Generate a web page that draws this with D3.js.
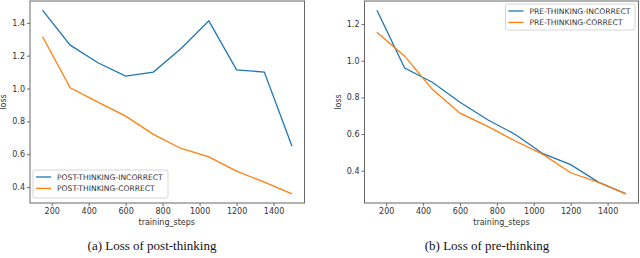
<!DOCTYPE html>
<html>
<head>
<meta charset="utf-8">
<script src="https://cdn.jsdelivr.net/npm/d3@7"></script>
<style>
  body { margin: 0; background: #fff; }
  svg text { font-family: "DejaVu Sans", sans-serif; }
</style>
</head>
<body>
<svg id="chart" width="640" height="258"></svg>
<script>
// training steps shared by both panels
const steps = [150, 300, 450, 600, 750, 900, 1050, 1200, 1350, 1500];

// (a) post-thinking loss
const postIncorrect = [1.477, 1.264, 1.157, 1.076, 1.100, 1.244, 1.412, 1.114, 1.100, 0.649];
const postCorrect   = [1.317, 1.004, 0.917, 0.832, 0.721, 0.635, 0.584, 0.497, 0.430, 0.359];

// (b) pre-thinking loss
const preIncorrect = [1.276, 0.960, 0.883, 0.774, 0.678, 0.598, 0.493, 0.433, 0.338, 0.274];
const preCorrect   = [1.156, 1.025, 0.844, 0.714, 0.642, 0.562, 0.489, 0.389, 0.336, 0.274];

const xTicks = [200, 400, 600, 800, 1000, 1200, 1400];
const postYTicks = [0.4, 0.6, 0.8, 1.0, 1.2, 1.4];
const preYTicks = [0.4, 0.6, 0.8, 1.0, 1.2];

const blue = "#1f77b4", orange = "#ff7f0e";

const svg = d3.select("#chart");

function panel(opts) {
    const {left, right, top, bottom, incorrect, correct, yTicks, names, legend, caption, captionX} = opts;

    // matplotlib style 5% margins
    const xr = d3.extent(steps);
    const xpad = (xr[1] - xr[0]) * 0.05;
    const all = incorrect.concat(correct);
    const yr = d3.extent(all);
    const ypad = (yr[1] - yr[0]) * 0.05;

    const x = d3.scaleLinear().domain([xr[0] - xpad, xr[1] + xpad]).range([left, right]);
    const y = d3.scaleLinear().domain([yr[0] - ypad, yr[1] + ypad]).range([bottom, top]);

    const g = svg.append("g");

    const xAxis = g.append("g")
        .attr("transform", `translate(0,${bottom})`)
        .call(d3.axisBottom(x).tickValues(xTicks).tickFormat(d3.format("d")).tickSize(3).tickPadding(2));
    const yAxis = g.append("g")
        .attr("transform", `translate(${left},0)`)
        .call(d3.axisLeft(y).tickValues(yTicks).tickFormat(d3.format(".1f")).tickSize(3).tickPadding(2));

    [xAxis, yAxis].forEach(a => {
        a.select(".domain").remove();
        a.selectAll(".tick line").attr("stroke", "#444").attr("stroke-width", 0.8);
        a.selectAll(".tick text").attr("fill", "#333").style("font-size", "8px");
    });

    const line = d3.line().x((d, i) => x(steps[i])).y(d => y(d));

    g.append("path").datum(incorrect)
        .attr("d", line).attr("fill", "none").attr("stroke", blue).attr("stroke-width", 1.3);
    g.append("path").datum(correct)
        .attr("d", line).attr("fill", "none").attr("stroke", orange).attr("stroke-width", 1.3);

    // frame
    g.append("rect")
        .attr("x", left).attr("y", top)
        .attr("width", right - left).attr("height", bottom - top)
        .attr("fill", "none").attr("stroke", "#666").attr("stroke-width", 1);

    // axis labels
    g.append("text")
        .attr("x", (left + right) / 2 + opts.xLabelShift).attr("y", bottom + 22)
        .attr("text-anchor", "middle").attr("fill", "#333")
        .style("font-size", "8px")
        .text("training_steps");
    g.append("text")
        .attr("transform", `translate(${opts.yLabelX},${(top + bottom) / 2}) rotate(-90)`)
        .attr("text-anchor", "middle").attr("fill", "#333")
        .style("font-size", "8px")
        .text("loss");

    // legend
    const lg = g.append("g").attr("transform", `translate(${legend.x},${legend.y})`);
    lg.append("rect")
        .attr("width", legend.w).attr("height", legend.h)
        .attr("rx", 2).attr("fill", "#fff").attr("fill-opacity", 0.8)
        .attr("stroke", "#ccc").attr("stroke-width", 0.8);
    [[names[0], blue], [names[1], orange]].forEach(([name, c], i) => {
        const yy = 7 + i * 11.4;
        lg.append("line")
            .attr("x1", 3).attr("x2", 18).attr("y1", yy).attr("y2", yy)
            .attr("stroke", c).attr("stroke-width", 1.3);
        lg.append("text")
            .attr("x", 24).attr("y", yy).attr("dy", "0.35em")
            .attr("fill", "#333").style("font-size", "7.6px")
            .text(name);
    });

    // caption
    svg.append("text")
        .attr("x", captionX).attr("y", 250)
        .attr("text-anchor", "middle")
        .style("font-family", "'Liberation Serif', 'Times New Roman', serif")
        .style("font-size", "13px")
        .attr("fill", "#111")
        .text(caption);
}

panel({
    left: 30, right: 304.5, top: 1, bottom: 203,
    incorrect: postIncorrect, correct: postCorrect, yTicks: postYTicks,
    names: ["POST-THINKING-INCORRECT", "POST-THINKING-CORRECT"],
    legend: {x: 33, y: 170, w: 135, h: 28},
    caption: "(a) Loss of post-thinking", captionX: 152,
    xLabelShift: -0.5, yLabelX: 6
});

panel({
    left: 364.5, right: 638.5, top: 1, bottom: 203,
    incorrect: preIncorrect, correct: preCorrect, yTicks: preYTicks,
    names: ["PRE-THINKING-INCORRECT", "PRE-THINKING-CORRECT"],
    legend: {x: 505.5, y: 4, w: 129.5, h: 26},
    caption: "(b) Loss of pre-thinking", captionX: 487,
    xLabelShift: 0, yLabelX: 341
});
</script>
</body>
</html>
